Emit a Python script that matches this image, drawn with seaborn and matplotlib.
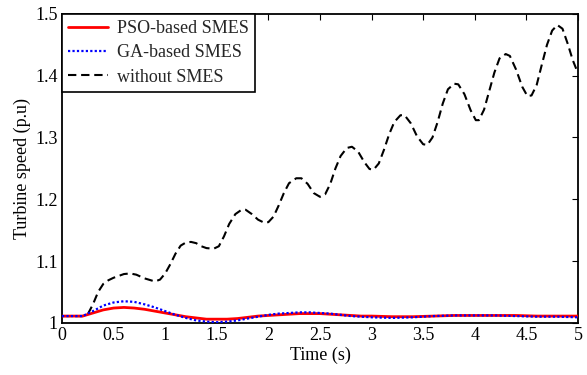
import numpy as np
import pandas as pd
import matplotlib
matplotlib.use("Agg")
import matplotlib.pyplot as plt
import seaborn as sns

# ---- data ----
t_without = [0, 0.2, 0.25, 0.3, 0.35, 0.4, 0.45, 0.5, 0.55, 0.6, 0.66, 0.72, 0.8, 0.9, 0.95,
             1.0, 1.05, 1.1, 1.15, 1.2, 1.25, 1.3, 1.35, 1.4, 1.47, 1.52, 1.57, 1.62, 1.68,
             1.74, 1.78, 1.84, 1.9, 1.96, 2.0, 2.05, 2.1, 2.15, 2.2, 2.27, 2.32, 2.38, 2.44,
             2.5, 2.55, 2.6, 2.65, 2.7, 2.76, 2.81, 2.87, 2.93, 2.98, 3.02, 3.07, 3.12, 3.17,
             3.22, 3.28, 3.32, 3.38, 3.44, 3.5, 3.54, 3.59, 3.64, 3.69, 3.74, 3.8, 3.84, 3.9,
             3.96, 4.01, 4.04, 4.09, 4.14, 4.19, 4.24, 4.3, 4.34, 4.4, 4.46, 4.51, 4.55, 4.6,
             4.65, 4.7, 4.75, 4.8, 4.85, 4.9, 4.95, 5.0]
y_without = [1.011, 1.011, 1.014, 1.030, 1.050, 1.063, 1.069, 1.073, 1.076, 1.079, 1.080, 1.078,
             1.072, 1.067, 1.070, 1.080, 1.095, 1.112, 1.125, 1.130, 1.131, 1.129, 1.124, 1.121,
             1.120, 1.124, 1.140, 1.160, 1.176, 1.183, 1.183, 1.176, 1.167, 1.162, 1.163, 1.172,
             1.190, 1.210, 1.226, 1.234, 1.234, 1.225, 1.210, 1.204, 1.208, 1.225, 1.250, 1.270,
             1.283, 1.285, 1.277, 1.260, 1.249, 1.248, 1.258, 1.280, 1.305, 1.325, 1.336, 1.336,
             1.323, 1.302, 1.289, 1.288, 1.300, 1.325, 1.355, 1.378, 1.387, 1.386, 1.370, 1.344,
             1.328, 1.328, 1.345, 1.375, 1.405, 1.428, 1.435, 1.432, 1.410, 1.382, 1.367, 1.368,
             1.385, 1.418, 1.450, 1.473, 1.482, 1.476, 1.452, 1.425, 1.404]

t_pso = [0, 0.2, 0.3, 0.4, 0.5, 0.6, 0.7, 0.8, 0.9, 1.0, 1.1, 1.2, 1.3, 1.4, 1.5, 1.6, 1.7,
         1.8, 1.9, 2.0, 2.1, 2.2, 2.3, 2.4, 2.5, 2.6, 2.7, 2.8, 2.9, 3.0, 3.2, 3.4, 3.6, 3.8,
         4.0, 4.2, 4.4, 4.6, 4.8, 5.0]
y_pso = [1.011, 1.011, 1.016, 1.021, 1.024, 1.025, 1.024, 1.022, 1.019, 1.016, 1.013, 1.010,
         1.008, 1.006, 1.006, 1.006, 1.007, 1.009, 1.011, 1.012, 1.013, 1.014, 1.015, 1.015,
         1.015, 1.014, 1.013, 1.012, 1.011, 1.011, 1.010, 1.010, 1.011, 1.012, 1.012, 1.012,
         1.012, 1.011, 1.011, 1.011]

t_ga = [0, 0.2, 0.3, 0.4, 0.5, 0.6, 0.7, 0.8, 0.9, 1.0, 1.1, 1.2, 1.3, 1.4, 1.5, 1.6, 1.7,
        1.8, 1.9, 2.0, 2.1, 2.2, 2.3, 2.4, 2.5, 2.6, 2.7, 2.8, 2.9, 3.0, 3.2, 3.4, 3.6, 3.8,
        4.0, 4.2, 4.4, 4.6, 4.8, 5.0]
y_ga = [1.011, 1.011, 1.019, 1.028, 1.033, 1.035, 1.034, 1.030, 1.025, 1.019, 1.013, 1.008,
        1.004, 1.002, 1.001, 1.002, 1.004, 1.007, 1.010, 1.013, 1.015, 1.016, 1.017, 1.017,
        1.016, 1.015, 1.013, 1.011, 1.010, 1.009, 1.008, 1.009, 1.011, 1.012, 1.012, 1.012,
        1.011, 1.010, 1.010, 1.009]

x_ticks = [0, 0.5, 1, 1.5, 2, 2.5, 3, 3.5, 4, 4.5, 5]
x_tick_labels = ["0", "0.5", "1", "1.5", "2", "2.5", "3", "3.5", "4", "4.5", "5"]
y_ticks = [1.0, 1.1, 1.2, 1.3, 1.4, 1.5]
y_tick_labels = ["1", "1.1", "1.2", "1.3", "1.4", "1.5"]

# ---- style ----
sns.set_theme(style="white")
plt.rcParams["font.family"] = ["Liberation Serif", "DejaVu Serif"]

fig = plt.figure(figsize=(5.87, 3.75), dpi=100)
ax = fig.add_axes([0.1056, 0.139, 0.879, 0.824])

df_pso = pd.DataFrame({"t": t_pso, "y": y_pso})
df_ga = pd.DataFrame({"t": t_ga, "y": y_ga})
df_wo = pd.DataFrame({"t": t_without, "y": y_without})

sns.lineplot(data=df_pso, x="t", y="y", ax=ax, color="#ff0000", lw=2.0,
             label="PSO-based SMES", zorder=3)
sns.lineplot(data=df_ga, x="t", y="y", ax=ax, color="#0000ff", lw=1.6,
             linestyle=(0, (1, 1)), label="GA-based SMES", zorder=4)
sns.lineplot(data=df_wo, x="t", y="y", ax=ax, color="black", lw=1.5,
             linestyle=(0, (4, 2.3)), label="without SMES", zorder=2)

ax.set_xlim(0, 5)
ax.set_ylim(1.0, 1.5)
ax.set_xticks(x_ticks)
ax.set_xticklabels(x_tick_labels)
ax.set_yticks(y_ticks)
ax.set_yticklabels(y_tick_labels)
ax.tick_params(direction="in", length=4, width=0.8, top=True, right=True,
               labelsize=13, colors="black", pad=3)
for s in ax.spines.values():
    s.set_visible(True)
    s.set_color("black")
    s.set_linewidth(1.3)

ax.set_xlabel("Time (s)", fontsize=13, color="black", labelpad=2)
ax.set_ylabel("Turbine speed (p.u)", fontsize=13, color="black", labelpad=3)

leg = ax.legend(loc="upper left", fontsize=13, frameon=True, fancybox=False,
                borderaxespad=0, handlelength=2.2, labelspacing=0.4,
                borderpad=0.35, handletextpad=0.5)
leg.get_frame().set_edgecolor("black")
leg.get_frame().set_linewidth(1.2)
leg.get_frame().set_alpha(1)

fig.savefig("out.png", dpi=100)
